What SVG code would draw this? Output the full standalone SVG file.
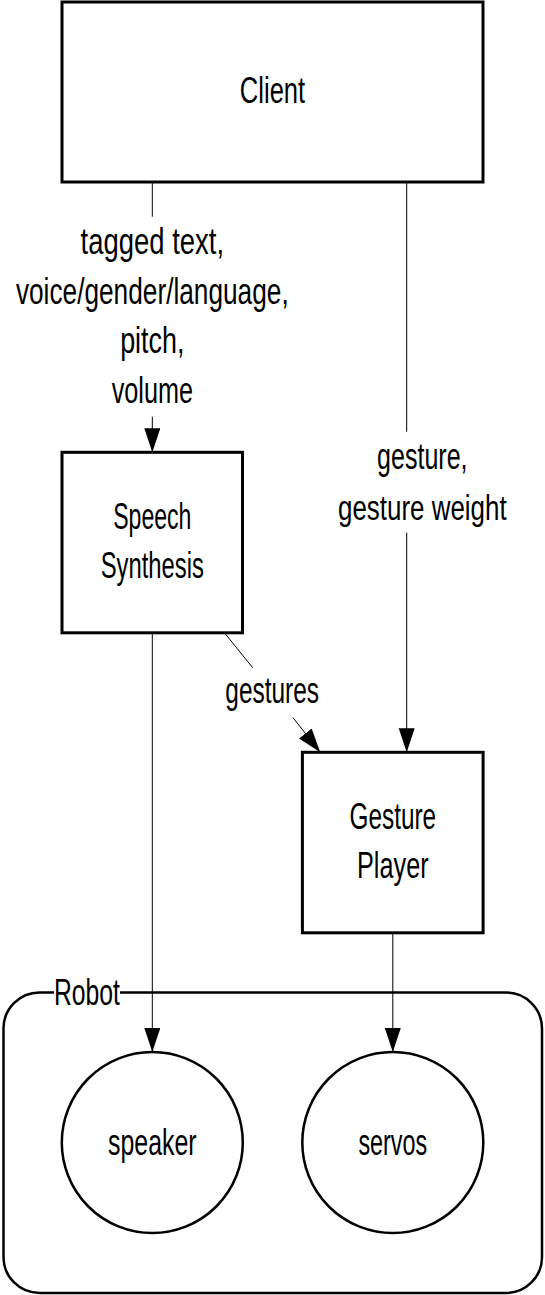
<svg xmlns="http://www.w3.org/2000/svg" width="545" height="1295" viewBox="0 0 545 1295">
<style>
text{font-family:"Liberation Sans",Arial,sans-serif;font-size:36px;fill:#000;text-anchor:middle}
.box{fill:#fff;stroke:#000;stroke-width:3}
.circ{fill:#fff;stroke:#000;stroke-width:2.5}
.edge{fill:none;stroke:#000;stroke-width:1}
</style>
<defs>
<marker id="arr" markerUnits="userSpaceOnUse" markerWidth="25" markerHeight="17" refX="24" refY="8" orient="auto" viewBox="0 0 25 17">
<path d="M0,0 L24,8 L0,16 z" fill="#000"/>
</marker>
</defs>
<rect width="545" height="1295" fill="#fff"/>
<g id="robot">
<path d="M54,992.5 H40 A36,36 0 0 0 3.5,1028.5 V1257 A36,36 0 0 0 39.5,1293 H506 A36,36 0 0 0 542,1257 V1028.5 A36,36 0 0 0 506,992.5 H120" fill="none" stroke="#000" stroke-width="2.5"/>
<text x="87" y="1005" textLength="66" lengthAdjust="spacingAndGlyphs">Robot</text>
</g>
<g id="client">
<rect class="box" x="62" y="2" width="421" height="180"/>
<text x="272.5" y="103" textLength="65.3" lengthAdjust="spacingAndGlyphs">Client</text>
</g>
<g id="speech">
<rect class="box" x="62" y="452.3" width="180.5" height="180.5"/>
<text x="152.3" y="529.3" textLength="78.2" lengthAdjust="spacingAndGlyphs">Speech</text>
<text x="152.3" y="578.3" textLength="103.2" lengthAdjust="spacingAndGlyphs">Synthesis</text>
</g>
<g id="gesture-player">
<rect class="box" x="302.4" y="752.3" width="180.7" height="180.5"/>
<text x="392.8" y="829.3" textLength="86.5" lengthAdjust="spacingAndGlyphs">Gesture</text>
<text x="392.8" y="878.3" textLength="71.6" lengthAdjust="spacingAndGlyphs">Player</text>
</g>
<g id="speaker">
<circle class="circ" cx="152.3" cy="1142.5" r="90.5"/>
<text x="152.3" y="1155" textLength="88.6" lengthAdjust="spacingAndGlyphs">speaker</text>
</g>
<g id="servos">
<circle class="circ" cx="392.8" cy="1142.5" r="90.5"/>
<text x="392.8" y="1155" textLength="68.8" lengthAdjust="spacingAndGlyphs">servos</text>
</g>
<g id="connectors">
<line class="edge" x1="152.3" y1="182" x2="152.3" y2="216.7"/>
<line class="edge" x1="152.3" y1="416.7" x2="152.3" y2="452.3" marker-end="url(#arr)"/>
<text x="152.3" y="254" textLength="143.5" lengthAdjust="spacingAndGlyphs">tagged  text,</text>
<text x="152.3" y="303.7" textLength="272.8" lengthAdjust="spacingAndGlyphs">voice/gender/language,</text>
<text x="152.3" y="353.3" textLength="64.3" lengthAdjust="spacingAndGlyphs">pitch,</text>
<text x="152.3" y="403" textLength="81.3" lengthAdjust="spacingAndGlyphs">volume</text>
<line class="edge" x1="406.7" y1="182" x2="406.7" y2="431.7"/>
<line class="edge" x1="406.7" y1="532.7" x2="406.7" y2="752.3" marker-end="url(#arr)"/>
<text x="422.3" y="469.3" textLength="90.4" lengthAdjust="spacingAndGlyphs">gesture,</text>
<text transform="translate(422.3,520) scale(0.7206,1)" x="0" y="0">gesture  weight</text>
<line class="edge" x1="225" y1="633.5" x2="252.7" y2="667.7"/>
<line class="edge" x1="293" y1="717.7" x2="320.2" y2="752.3" marker-end="url(#arr)"/>
<text x="272.2" y="703.3" textLength="93.8" lengthAdjust="spacingAndGlyphs">gestures</text>
<line class="edge" x1="152.3" y1="632.8" x2="152.3" y2="1052" marker-end="url(#arr)"/>
<line class="edge" x1="392.8" y1="932.8" x2="392.8" y2="1052" marker-end="url(#arr)"/>
</g>
</svg>
